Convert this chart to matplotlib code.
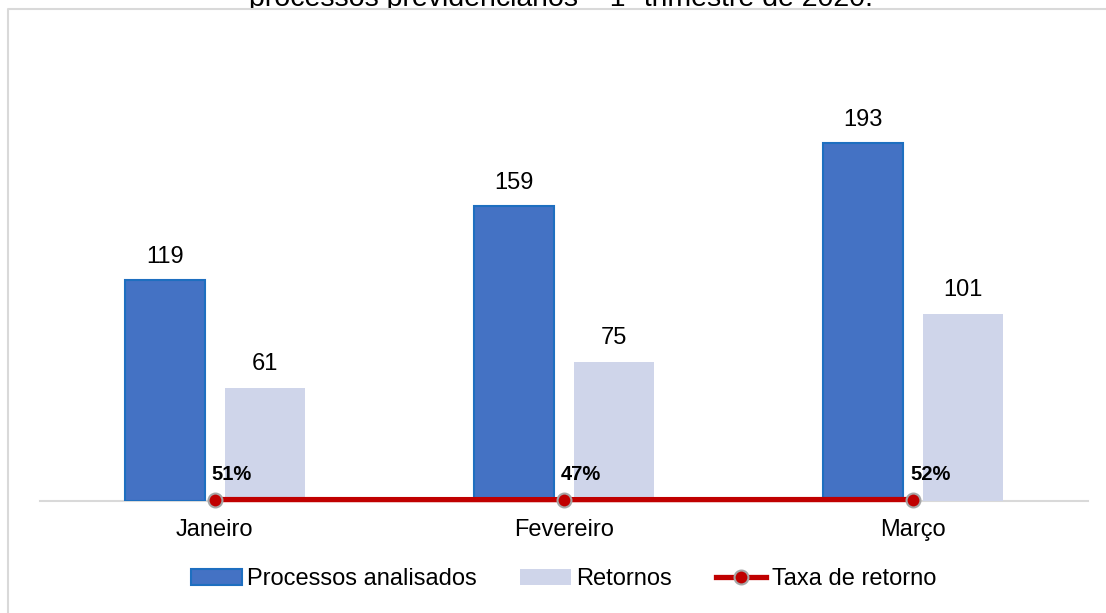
import matplotlib
matplotlib.use("Agg")
import matplotlib.pyplot as plt
from matplotlib.lines import Line2D
from matplotlib.patches import Patch, Rectangle
import numpy as np

plt.rcParams['font.family'] = ['Liberation Sans', 'DejaVu Sans']

# Data
meses = ["Janeiro", "Fevereiro", "Março"]
processos = [119, 159, 193]
retornos = [61, 75, 101]
taxa = [0.51, 0.47, 0.52]
taxa_rotulos = ["51%", "47%", "52%"]
titulo = "processos previdenciários – 1º trimestre de 2020."

AZUL = "#4472C4"
AZUL_BORDA = "#1E6FC0"
LILAS = "#CFD5EA"
VERMELHO = "#C00000"
CINZA = "#D9D9D9"
FS = 17

W, H = 1106, 613
fig = plt.figure(figsize=(W / 100, H / 100), dpi=100)
fig.patch.set_facecolor("white")

# Caption text sitting above the chart area (its lower part is hidden by it)
fig.text(561 / W, 1 - 6.5 / H, titulo, ha="center", va="baseline",
         fontsize=20.5, color="black", zorder=1)

# Chart area: white fill with a light grey border (top and left edges visible)
frame_y = 1 - 8.5 / H
fig.add_artist(Rectangle((8 / W, 0.0), 1.0, frame_y, transform=fig.transFigure,
                         facecolor="white", edgecolor="none", zorder=2))
fig.add_artist(Line2D([8 / W, 8 / W, 1.0], [0.0, frame_y, frame_y],
                      transform=fig.transFigure, color=CINZA, lw=1.5, zorder=3))

ax_left, ax_right = 40, 1088
ax_bottom = 500.5
ymax = 250
px_per_unit = 1.85
ax_h = ymax * px_per_unit
ax = fig.add_axes([ax_left / W, (H - ax_bottom) / H,
                   (ax_right - ax_left) / W, ax_h / H])
ax.set_zorder(5)

x = np.arange(len(meses))
bw = 0.229
off = 0.143

ax.bar(x - off, processos, width=bw, color=AZUL,
       edgecolor=AZUL_BORDA, linewidth=1.5, zorder=3)
ax.bar(x + off, retornos, width=bw, color=LILAS,
       edgecolor="none", zorder=3)

for xi, v in zip(x - off, processos):
    ax.annotate(str(v), (xi, v), xytext=(0, 9), textcoords="offset points",
                ha="center", va="bottom", fontsize=FS)
for xi, v in zip(x + off, retornos):
    ax.annotate(str(v), (xi, v), xytext=(0, 9), textcoords="offset points",
                ha="center", va="bottom", fontsize=FS)

ax.plot(x, taxa, color=VERMELHO, lw=3.8, marker="o", markersize=10,
        markerfacecolor=VERMELHO, markeredgecolor="#A6A6A6",
        markeredgewidth=1.5, zorder=5, clip_on=False)
for xi, v, lab in zip(x, taxa, taxa_rotulos):
    ax.annotate(lab, (xi, v), xytext=(-2, 11), textcoords="offset points",
                ha="left", va="bottom", fontsize=14.5, fontweight="bold")

ax.set_xlim(-0.5, len(meses) - 0.5)
ax.set_ylim(0, ymax)
for s in ["top", "right", "left"]:
    ax.spines[s].set_visible(False)
ax.spines["bottom"].set_color(CINZA)
ax.spines["bottom"].set_linewidth(1.5)
ax.spines["bottom"].set_zorder(2)
ax.set_yticks([])
ax.set_xticks(x)
ax.set_xticklabels(meses, fontsize=FS)
ax.tick_params(axis="x", length=0, pad=13)
ax.set_facecolor("none")

handles = [
    Patch(facecolor=AZUL, edgecolor=AZUL_BORDA, linewidth=1.5),
    Patch(facecolor=LILAS, edgecolor="none"),
    Line2D([], [], color=VERMELHO, lw=3.8, marker="o", markersize=10,
           markerfacecolor=VERMELHO, markeredgecolor="#A6A6A6",
           markeredgewidth=1.5),
]
leg = fig.legend(handles, ["Processos analisados", "Retornos", "Taxa de retorno"],
                 loc="center", bbox_to_anchor=(563.5 / W, 1 - 579 / H), ncol=3,
                 frameon=False, fontsize=FS, handlelength=2.15, handleheight=0.65,
                 handletextpad=0.22, columnspacing=1.85)
leg.set_zorder(6)

fig.savefig("out.png", dpi=100, facecolor="white")
